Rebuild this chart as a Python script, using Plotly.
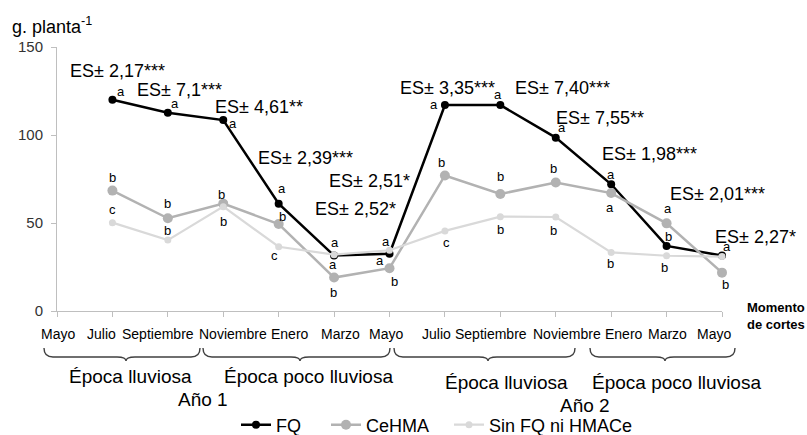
import plotly.graph_objects as go

# ---------------- data ----------------
months = ["Mayo", "Julio", "Septiembre", "Noviembre", "Enero", "Marzo", "Mayo",
          "Julio", "Septiembre", "Noviembre", "Enero", "Marzo", "Mayo"]
cut_idx = [1, 2, 3, 4, 5, 6, 7, 8, 9, 10, 11, 12]

fq = [120, 112.7, 108.5, 61, 31.5, 32.5, 117, 117, 98.5, 72, 37, 31.5]
cehma = [68.4, 52.7, 61, 49.4, 19, 24.3, 77, 66.5, 73, 67, 49.8, 21.8]
sin_fq = [50.2, 40.3, 59.3, 36.5, 32, 34.5, 45.5, 53.6, 53.4, 33.3, 31.4, 30.9]

fq_letters = ["a", "a", "a", "a", "a", "a", "a", "a", "a", "a", "b", "a"]
cehma_letters = ["b", "b", "b", "b", "b", "b", "b", "b", "b", "a", "a", "b"]
sin_letters = ["c", "b", "b", "c", "a", "a", "c", "b", "b", "b", "b", ""]

es_labels = ["ES± 2,17***", "ES± 7,1***", "ES± 4,61**",
             "ES± 2,39***", "ES± 2,51*", "ES± 2,52*",
             "ES± 3,35***", "ES± 7,40***", "ES± 7,55**",
             "ES± 1,98***", "ES± 2,01***", "ES± 2,27*"]

season_labels = ["Época lluviosa", "Época poco lluviosa", "Época lluviosa", "Época poco lluviosa"]
year_labels = ["Año 1", "Año 2"]
series_names = ["FQ", "CeHMA", "Sin FQ ni HMACe"]

# ---------------- layout helpers (pixel geometry) ----------------
W, H = 807, 435
L, R, T, B = 57, 85, 47, 124
PW, PH = W - L - R, H - T - B

def px(x):
    return (x - L) / PW

def py(y):
    return (H - B - y) / PH

FONT = "Liberation Sans, Arial, sans-serif"

fig = go.Figure()

colors = ["#000000", "#b2b2b2", "#d9d9d9"]
msizes = [8, 10, 7]
lwidths = [2.5, 2.5, 2.2]
legend_w = [45, 78, 150]
for name, vals, col, ms, lw, lgw in zip(series_names, [fq, cehma, sin_fq], colors,
                                       msizes, lwidths, legend_w):
    fig.add_trace(go.Scatter(
        x=cut_idx, y=vals, name=name, mode="lines+markers",
        line=dict(color=col, width=lw),
        marker=dict(color=col, size=ms, symbol="circle"),
        cliponaxis=False, legendwidth=lgw,
    ))

ann = []

# significance letters (offsets in pixels from each point)
fq_off = [(9, 8), (7, 9), (10, -3), (3, 15), (1, 13), (-4, 12), (-11, 1), (-2, 11),
          (6, 10), (0, 10), (2, 9), (5, 9)]
ce_off = [(0, 13), (0, 15), (-2, 9), (4, 8), (-1, -15), (5, -13), (-3, 13), (0, 17),
          (-2, 14), (-1, -14), (1, 15), (3, -12)]
sin_off = [(0, 13), (0, 10), (0, -15), (-4, -9), (-1, -10), (-10, -10), (2, -12), (0, -13),
           (-2, -13), (-1, -11), (-2, -12), (0, 0)]
for vals, letters, offs in [(fq, fq_letters, fq_off), (cehma, cehma_letters, ce_off),
                            (sin_fq, sin_letters, sin_off)]:
    for xi, v, lt, (dx, dy) in zip(cut_idx, vals, letters, offs):
        if not lt:
            continue
        ann.append(dict(x=xi, y=v, xref="x", yref="y", text=lt, showarrow=False,
                        xshift=dx, yshift=dy, font=dict(family=FONT, size=13, color="#000")))

# ES labels (left edge / middle in pixels)
es_pos = [(68, 71), (135, 90), (213, 107), (256, 158), (327, 181), (313, 209),
          (398, 88), (513, 88), (554, 118), (600, 154), (668, 194), (713, 237)]
for t, (x0, y0) in zip(es_labels, es_pos):
    ann.append(dict(x=px(x0), y=py(y0), xref="paper", yref="paper", text=t,
                    showarrow=False, xanchor="left", yanchor="middle",
                    font=dict(family=FONT, size=18, color="#000")))

# month labels
month_pos = [58, 101.5, 158, 233, 290, 340, 386, 436, 491, 567, 624, 667.5, 714]
for m, xc in zip(months, month_pos):
    ann.append(dict(x=px(xc), y=py(334), xref="paper", yref="paper", text=m,
                    showarrow=False, xanchor="center", yanchor="middle",
                    font=dict(family=FONT, size=14, color="#000")))

# season / year labels
season_pos = [(130, 376), (308, 376), (506, 382), (676, 382)]
for s, (xc, yc) in zip(season_labels, season_pos):
    ann.append(dict(x=px(xc), y=py(yc), xref="paper", yref="paper", text=s,
                    showarrow=False, xanchor="center", yanchor="middle",
                    font=dict(family=FONT, size=19, color="#000")))
year_pos = [(203, 399), (585, 405)]
for s, (xc, yc) in zip(year_labels, year_pos):
    ann.append(dict(x=px(xc), y=py(yc), xref="paper", yref="paper", text=s,
                    showarrow=False, xanchor="center", yanchor="middle",
                    font=dict(family=FONT, size=19, color="#000")))

# axis titles
ann.append(dict(x=px(10), y=py(25), xref="paper", yref="paper",
                text="g. planta<sup>-1</sup>", showarrow=False, xanchor="left",
                yanchor="middle", font=dict(family=FONT, size=18, color="#000")))
ann.append(dict(x=px(776), y=py(316), xref="paper", yref="paper",
                text="<b>Momento<br>de cortes</b>", showarrow=False, xanchor="center",
                yanchor="middle", align="center",
                font=dict(family=FONT, size=13, color="#000")))

# curly braces
def brace(xl, xr, xc, ytop=348, ybody=357, ytip=361, r=9):
    def P(x, y):
        return f"{px(x):.5f},{py(y):.5f}"
    return (f"M {P(xl, ytop)} Q {P(xl, ybody)} {P(xl + r, ybody)} "
            f"L {P(xc - r, ybody)} Q {P(xc, ybody)} {P(xc, ytip)} "
            f"Q {P(xc, ybody)} {P(xc + r, ybody)} "
            f"L {P(xr - r, ybody)} Q {P(xr, ybody)} {P(xr, ytop)}")

shapes = []
for xl, xr, xc in [(44, 200, 126), (203, 390, 300), (394, 575, 488), (590, 735, 665)]:
    shapes.append(dict(type="path", path=brace(xl, xr, xc), xref="paper", yref="paper",
                       line=dict(color="#404040", width=1.4)))

fig.update_layout(
    width=W, height=H, autosize=False,
    margin=dict(l=L, r=R, t=T, b=B, pad=0, autoexpand=False),
    paper_bgcolor="white", plot_bgcolor="white",
    font=dict(family=FONT, color="#000"),
    annotations=ann, shapes=shapes,
    showlegend=True,
    legend=dict(orientation="h", x=px(236), xanchor="left", y=py(425),
                yanchor="middle", font=dict(family=FONT, size=18, color="#000"),
                bgcolor="rgba(0,0,0,0)", borderwidth=0, itemwidth=30),
    xaxis=dict(range=[0, 12], tickvals=list(range(13)), showticklabels=False,
               showline=True, linecolor="#bfbfbf", linewidth=1, ticks="outside",
               ticklen=5, tickcolor="#bfbfbf", showgrid=False, zeroline=False,
               fixedrange=True),
    yaxis=dict(range=[0, 150], tickvals=[0, 50, 100, 150], showline=True,
               linecolor="#bfbfbf", linewidth=1, ticks="outside", ticklen=5,
               tickcolor="#bfbfbf", showgrid=False, zeroline=False,
               tickfont=dict(family=FONT, size=15, color="#333"),
               ticklabelstandoff=5, fixedrange=True),
)

fig.write_html("out.html", config={"displayModeBar": False},
               post_script="document.body.style.margin='0';")
